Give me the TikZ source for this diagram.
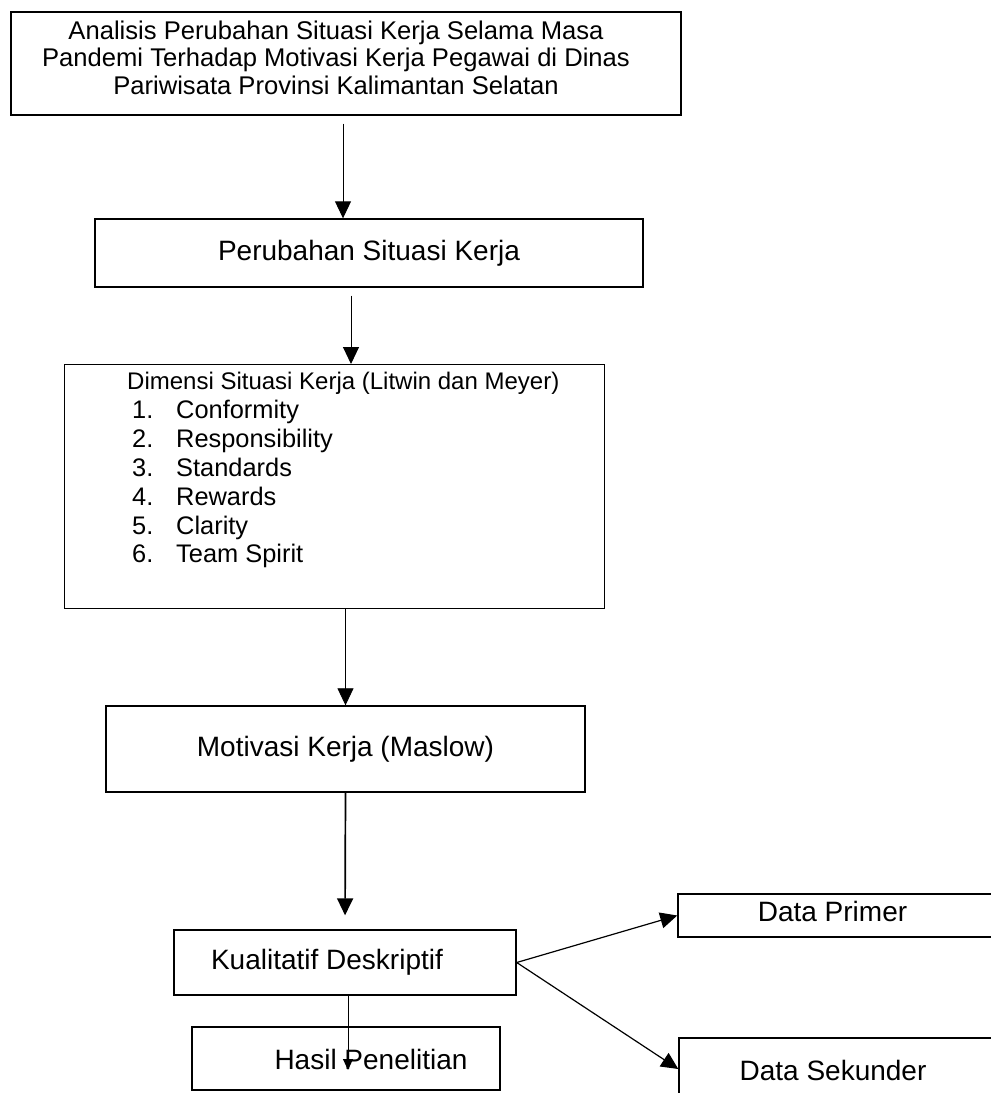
\documentclass[tikz,border=0pt]{standalone}
\usepackage{fontspec}
\setmainfont{Liberation Sans}
\usetikzlibrary{arrows.meta}

\tikzset{
  box/.style={draw, line width=1.4pt, inner sep=0pt},
  conn/.style={-{Triangle[length=17pt,width=16pt]}, line width=1pt},
}
\newcommand{\butir}[2]{\hspace*{5pt}\makebox[44pt][l]{#1}#2}

\begin{document}
\begin{tikzpicture}[x=1pt, y=-1pt, font=\fontsize{28}{32}\selectfont]
        
        \clip (0,0) rectangle (991,1093);
        
        % judul
        \node[box, minimum width=670, minimum height=103,
              label={[shift={(-10pt,6pt)}, align=center, font=\fontsize{25.6}{27.5}\selectfont]center:Analisis Perubahan Situasi Kerja Selama Masa\\
           Pandemi Terhadap Motivasi Kerja Pegawai di Dinas\\
           Pariwisata Provinsi Kalimantan Selatan}] (judul) at (346,63.5) {};
        
        \node[box, minimum width=548, minimum height=68] (situasi) at (369,253) {Perubahan Situasi Kerja};
        
        % dimensi
        \node[box, minimum width=540, minimum height=244, anchor=north west] (dimensi) at (64,364) {};
        \node[anchor=north west, align=left, inner sep=0pt, font=\fontsize{25.4}{28.9}\selectfont] (dimlist)
          at ([shift={(63,8)}]dimensi.north west)
          {{\fontsize{24}{28.9}\selectfont Dimensi Situasi Kerja (Litwin dan Meyer)}\\
           \butir{1.}{Conformity}\\
           \butir{2.}{Responsibility}\\
           \butir{3.}{Standards}\\
           \butir{4.}{Rewards}\\
           \butir{5.}{Clarity}\\
           \butir{6.}{Team Spirit}};
        
        \node[box, minimum width=479, minimum height=86] (motivasi) at (345.5,749) {Motivasi Kerja (Maslow)};
        
        \node[box, minimum width=342, minimum height=65,
              label={[xshift=-18pt]center:Kualitatif Deskriptif}] (kual) at (345,962.5) {};
        
        \node[box, minimum width=308, minimum height=63,
              label={[shift={(25pt,-1pt)}]center:Hasil Penelitian}] (hasil) at (346,1058.5) {};
        
        \node[box, minimum width=317, minimum height=43,
              label={[shift={(-4pt,4pt)}]center:Data Primer}] (primer) at (836.5,915.5) {};
        
        \node[box, minimum width=316, minimum height=62,
              label={[shift={(-4pt,-1pt)}]center:Data Sekunder}] (sekunder) at (837,1069) {};
        
        % panah
        \draw[conn, shorten <=8pt] ([xshift=-3pt]judul.south) -- ([xshift=-3pt]judul.south |- situasi.north);
        \draw[conn, shorten <=8pt] ([xshift=-18pt]situasi.south) -- ([xshift=-18pt]situasi.south |- dimensi.north);
        \draw[conn, line width=0.8pt] (motivasi.north |- dimensi.south) -- (motivasi.north);
        \draw[conn, line width=1.7pt, shorten >=14pt] (motivasi.south) -- (kual.north);
        
        \coordinate (ujung) at (348,1070);
        \draw[-{Triangle[length=11pt,width=10pt]}, line width=0.9pt] (ujung |- kual.south) -- (ujung);
        
        \draw[conn, line width=1.2pt] (kual.east) -- (primer.west);
        \draw[conn, line width=1.2pt] (kual.east) -- (sekunder.west);
        
        \end{tikzpicture}
\end{document}
